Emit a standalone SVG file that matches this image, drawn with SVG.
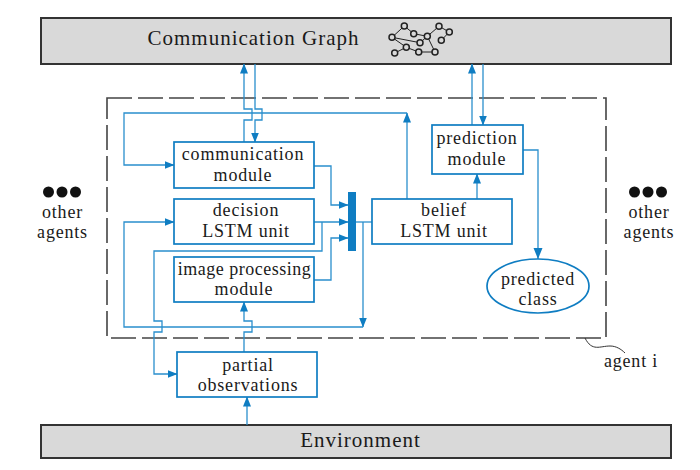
<svg xmlns="http://www.w3.org/2000/svg" width="700" height="470" viewBox="0 0 700 470">
<defs>
<marker id="a" markerUnits="userSpaceOnUse" markerWidth="12" markerHeight="10" refX="9.5" refY="4" orient="auto"><path d="M0 0L10 4L0 8Z" fill="#0f7dc2"/></marker>
<marker id="b" markerUnits="userSpaceOnUse" markerWidth="13" markerHeight="10" refX="11" refY="4.5" orient="auto"><path d="M0 0L11 4.5L0 9Z" fill="#0f7dc2"/></marker>
</defs>
<style>
text{font-family:"Liberation Serif","DejaVu Serif",serif;font-size:18px;fill:#1a1a1a;text-anchor:middle;letter-spacing:.8px}
.bar{fill:#d9d9d9;stroke:#333;stroke-width:2}
.box{fill:#fff;stroke:#0f7dc2;stroke-width:1.7}
.c{fill:none;stroke:#2a8fcd;stroke-width:1.3}
.ar{marker-end:url(#a)}
.g{stroke:#222;stroke-width:1}
.g circle{fill:#d9d9d9;stroke:#222;stroke-width:1.5}
.big{font-size:21px;letter-spacing:1px}
.tight{letter-spacing:.5px}
</style>
<rect x="0" y="0" width="700" height="470" fill="#fff"/>
<g id="communication-graph">
<rect class="bar" x="41" y="18" width="630" height="46"/>
<text class="big" x="253.500" y="45">Communication Graph</text>
<g class="g">
<path d="M392 37.3L404.3 26L413.7 33.7L427.3 36.3L439 26.3L449.3 32L441.3 40.3M427.3 36.3L420 42.7L392 37.3L406.3 47.3L394.7 53M406.3 47.3L418.7 52L435 52L427.3 36.3" fill="none"/>
<circle cx="404.3" cy="26" r="3"/><circle cx="392" cy="37.3" r="3"/><circle cx="413.7" cy="33.7" r="3"/><circle cx="427.3" cy="36.3" r="3"/><circle cx="439" cy="26.3" r="3"/><circle cx="449.3" cy="32" r="3"/><circle cx="441.3" cy="40.3" r="3"/><circle cx="420" cy="42.7" r="3"/><circle cx="394.7" cy="53" r="3"/><circle cx="406.3" cy="47.3" r="3"/><circle cx="418.7" cy="52" r="3"/><circle cx="435" cy="52" r="3"/>
</g>
</g>
<g id="environment">
<rect class="bar" x="41" y="425" width="630" height="33"/>
<text class="big" x="360.500" y="447">Environment</text>
</g>
<g id="agent-i">
<rect x="107" y="98" width="499" height="240" fill="none" stroke="#444" stroke-width="1.6" stroke-dasharray="25 6"/>
<path d="M585 338C592 352 600 346 610 346C616 346 621 349 625 353" fill="none" stroke="#333" stroke-width="1"/>
<text x="631" y="367">agent i</text>
</g>
<g id="connectors">
<path class="c ar" d="M244 142V120H252V109H244V64"/>
<path class="c ar" d="M255 64V109H262V120H255V142"/>
<path class="c ar" d="M407 113H124V165H174"/>
<path class="c ar" d="M407 199V113"/>
<path class="c ar" d="M314 166H331V205H348"/>
<path class="c ar" d="M314 222H348"/>
<path class="c ar" d="M322 222V251H154V321H162V332H154V374H177"/>
<path class="c ar" d="M314 280H331V238H348"/>
<path class="c" d="M356 222H372"/>
<path class="c ar" d="M363 222V327"/>
<path class="c ar" d="M363 327H124V222H174"/>
<path class="c ar" d="M244 352V332H252V321H244V302"/>
<path class="c ar" d="M247 425V397"/>
<path class="c ar" d="M472 125V64"/>
<path class="c ar" d="M483 64V125"/>
<path class="c ar" d="M477 199V174"/>
<path class="c" marker-end="url(#b)" d="M523 150H538V259"/>
</g>
<g id="communication-module"><rect class="box" x="174" y="142" width="140" height="46"/><text x="243" y="160">communication</text><text x="243" y="181">module</text></g>
<g id="decision-lstm"><rect class="box" x="174" y="199" width="140" height="45"/><text x="246" y="216">decision</text><text x="246" y="237">LSTM unit</text></g>
<g id="image-processing"><rect class="box" x="174" y="257" width="140" height="45"/><text class="tight" x="244.500" y="275">image processing</text><text x="244" y="295">module</text></g>
<g id="partial-observations"><rect class="box" x="177" y="352" width="140" height="45"/><text x="248" y="371">partial</text><text x="248" y="391">observations</text></g>
<g id="belief-lstm"><rect class="box" x="372" y="199" width="140" height="45"/><text x="444" y="216">belief</text><text x="444" y="237">LSTM unit</text></g>
<g id="prediction-module"><rect class="box" x="432" y="125" width="91" height="49"/><text x="477" y="144">prediction</text><text x="477" y="165">module</text></g>
<g id="predicted-class"><ellipse cx="538" cy="286" rx="51" ry="27" fill="#fff" stroke="#0f7dc2" stroke-width="1.7"/><text x="538" y="285">predicted</text><text x="538" y="305">class</text></g>
<g id="merge-bar"><rect x="348" y="192" width="8" height="59" fill="#0f7dc2"/></g>
<g id="other-agents-left"><circle cx="48.500" cy="192" r="5.500" fill="#111"/><circle cx="62" cy="192" r="5.500" fill="#111"/><circle cx="75.500" cy="192" r="5.500" fill="#111"/><text x="62.500" y="218">other</text><text x="62.500" y="238">agents</text></g>
<g id="other-agents-right"><circle cx="634.500" cy="192" r="5.500" fill="#111"/><circle cx="648" cy="192" r="5.500" fill="#111"/><circle cx="661.500" cy="192" r="5.500" fill="#111"/><text x="649" y="218">other</text><text x="649" y="238">agents</text></g>
</svg>
